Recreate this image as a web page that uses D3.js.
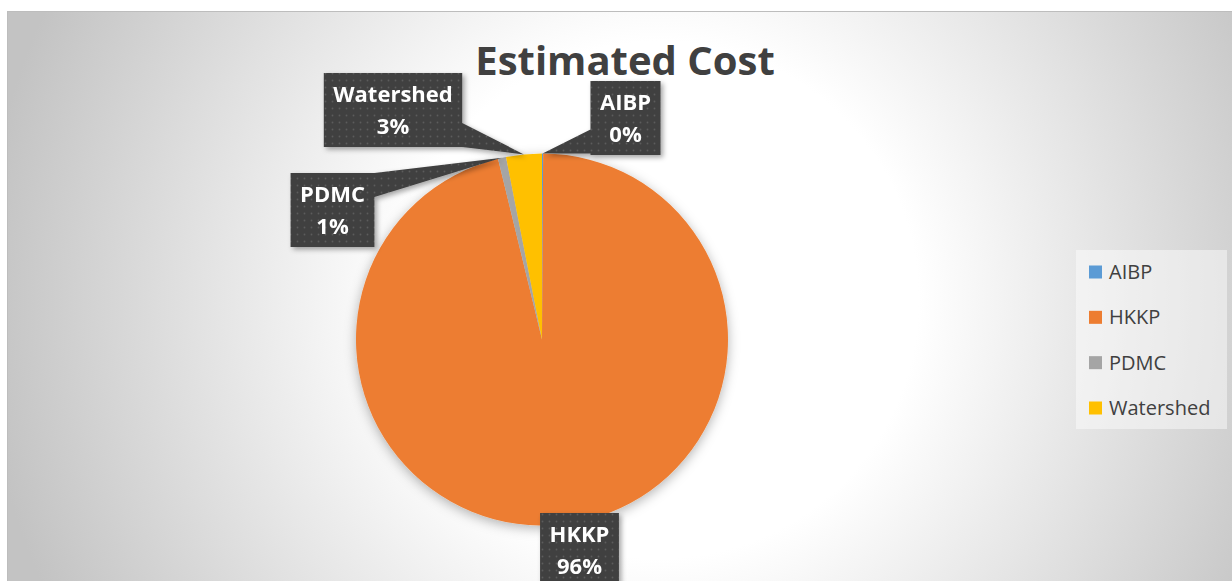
<!DOCTYPE html>
<html>
<head>
<meta charset="utf-8">
<script src="https://cdn.jsdelivr.net/npm/d3@7"></script>
<style>
  html, body { margin: 0; padding: 0; background: #ffffff; }
  svg { display: block; }
</style>
</head>
<body>
<svg id="chart" width="1232" height="581"></svg>
<script>
// Estimated cost shares (percent of total)
const categories = ["AIBP", "HKKP", "PDMC", "Watershed"];
const costShare = [0.1, 96.1, 0.7, 3.1];
const sliceColors = ["#5b9bd5", "#ed7d31", "#a5a5a5", "#ffc000"];
const chartTitle = "Estimated Cost";

// Callout box placement (box centre x, box top y) for each category
const calloutPlacement = [
  { cx: 625.5, top: 81 },
  { cx: 579.5, top: 513 },
  { cx: 332.5, top: 173 },
  { cx: 393,   top: 73 }
];

const W = 1232, H = 581;
const svg = d3.select("#chart");
const defs = svg.append("defs");

// Chart area background: soft radial gradient, white centre fading to grey
const bg = defs.append("radialGradient")
  .attr("id", "bgGrad")
  .attr("gradientUnits", "userSpaceOnUse")
  .attr("cx", 660).attr("cy", 300).attr("r", 680);
bg.append("stop").attr("offset", "0").attr("stop-color", "#ffffff");
bg.append("stop").attr("offset", "0.38").attr("stop-color", "#ffffff");
bg.append("stop").attr("offset", "1").attr("stop-color", "#c3c3c3");

// Dotted texture for the callout boxes
const pat = defs.append("pattern")
  .attr("id", "dots")
  .attr("patternUnits", "userSpaceOnUse")
  .attr("width", 7).attr("height", 7);
pat.append("rect").attr("width", 7).attr("height", 7).attr("fill", "#404040");
pat.append("circle").attr("cx", 3.5).attr("cy", 3.5).attr("r", 0.9).attr("fill", "#5c5c5c");

const pieShadow = defs.append("filter").attr("id", "pieShadow")
  .attr("x", "-20%").attr("y", "-20%").attr("width", "140%").attr("height", "140%");
pieShadow.append("feDropShadow")
  .attr("dx", 0).attr("dy", 3).attr("stdDeviation", 6)
  .attr("flood-color", "#000").attr("flood-opacity", 0.3);

const boxShadow = defs.append("filter").attr("id", "boxShadow")
  .attr("x", "-30%").attr("y", "-30%").attr("width", "160%").attr("height", "160%");
boxShadow.append("feDropShadow")
  .attr("dx", 2.5).attr("dy", 2.5).attr("stdDeviation", 2.5)
  .attr("flood-color", "#000").attr("flood-opacity", 0.35);

// Chart area
svg.append("rect")
  .attr("x", 7.5).attr("y", 11.5)
  .attr("width", W - 7).attr("height", H - 11)
  .attr("fill", "url(#bgGrad)")
  .attr("stroke", "#bdbdbd").attr("stroke-width", 1);

// Title
svg.append("text")
  .attr("x", 625).attr("y", 75)
  .attr("text-anchor", "middle")
  .attr("font-family", "'Open Sans', sans-serif")
  .attr("font-weight", 700)
  .attr("font-size", 40)
  .attr("fill", "#404040")
  .text(chartTitle);

// Pie
const cx = 542, cy = 339.5, radius = 186;
const data = categories.map((c, i) => ({ name: c, value: costShare[i], color: sliceColors[i], place: calloutPlacement[i] }));
const pie = d3.pie().sort(null).value(d => d.value);
const arcs = pie(data);
const arc = d3.arc().innerRadius(0).outerRadius(radius);
const edgeArc = d3.arc().innerRadius(radius).outerRadius(radius);

const pieG = svg.append("g")
  .attr("transform", `translate(${cx},${cy})`)
  .attr("filter", "url(#pieShadow)");
pieG.selectAll("path")
  .data(arcs)
  .join("path")
  .attr("d", arc)
  .attr("fill", d => d.data.color);

// Percent labels in callout boxes
const total = d3.sum(costShare);
const fmtPct = v => Math.round(v / total * 100) + "%";

const labelFont = "'Open Sans', sans-serif";
const labelSize = 22;
const labelsG = svg.append("g");

arcs.forEach(a => {
  const p = a.data.place;
  const g = labelsG.append("g").attr("filter", "url(#boxShadow)");
  const t1 = g.append("text").text(a.data.name)
    .attr("font-family", labelFont).attr("font-weight", 700).attr("font-size", labelSize);
  const t2 = g.append("text").text(fmtPct(a.data.value))
    .attr("font-family", labelFont).attr("font-weight", 700).attr("font-size", labelSize);
  const tw = Math.max(t1.node().getComputedTextLength(), t2.node().getComputedTextLength());
  const bw = tw + 19, bh = 74;
  const x0 = p.cx - bw / 2, x1 = p.cx + bw / 2, y0 = p.top, y1 = p.top + bh;

  // pointer tip on the slice edge at its mid angle
  const [ex, ey] = edgeArc.centroid(a);
  const tx = cx + ex, ty = cy + ey;
  const inside = tx >= x0 && tx <= x1 && ty >= y0 && ty <= y1;

  let pts = null;
  if (!inside) {
    const base = 24;
    if (tx > x1 || tx < x0) {
      const sx = tx > x1 ? x1 : x0;
      let yb = Math.max(y0, Math.min(ty, y1));
      let ya = yb - base;
      if (ya < y0) { ya = y0; yb = y0 + base; }
      pts = [[sx, ya], [tx, ty], [sx, yb]];
    } else {
      const sy = ty > y1 ? y1 : y0;
      let xb = Math.max(x0, Math.min(tx, x1));
      let xa = xb - base;
      if (xa < x0) { xa = x0; xb = x0 + base; }
      pts = [[xa, sy], [tx, ty], [xb, sy]];
    }
  }

  let shape = `M${x0},${y0}H${x1}V${y1}H${x0}Z`;
  if (pts) shape += `M${pts[0][0]},${pts[0][1]}L${pts[1][0]},${pts[1][1]}L${pts[2][0]},${pts[2][1]}Z`;
  g.insert("path", "text").attr("d", shape).attr("fill", "url(#dots)");

  t1.attr("x", p.cx).attr("y", y0 + 29).attr("text-anchor", "middle").attr("fill", "#ffffff");
  t2.attr("x", p.cx).attr("y", y0 + 61).attr("text-anchor", "middle").attr("fill", "#ffffff");
});

// Legend
const legend = svg.append("g");
legend.append("rect")
  .attr("x", 1076).attr("y", 250).attr("width", 151).attr("height", 179)
  .attr("fill", "#ffffff").attr("fill-opacity", 0.45);
const rowY = d3.scalePoint().domain(categories).range([272, 408]);
const items = legend.selectAll("g.item").data(data).join("g").attr("class", "item")
  .attr("transform", d => `translate(0,${rowY(d.name)})`);
items.append("rect")
  .attr("x", 1089).attr("y", -6.5).attr("width", 13).attr("height", 13)
  .attr("fill", d => d.color);
items.append("text")
  .attr("x", 1109).attr("y", 0).attr("dy", "0.35em")
  .attr("font-family", "'Open Sans', sans-serif")
  .attr("font-size", 20)
  .attr("fill", "#404040")
  .text(d => d.name);
</script>
</body>
</html>
